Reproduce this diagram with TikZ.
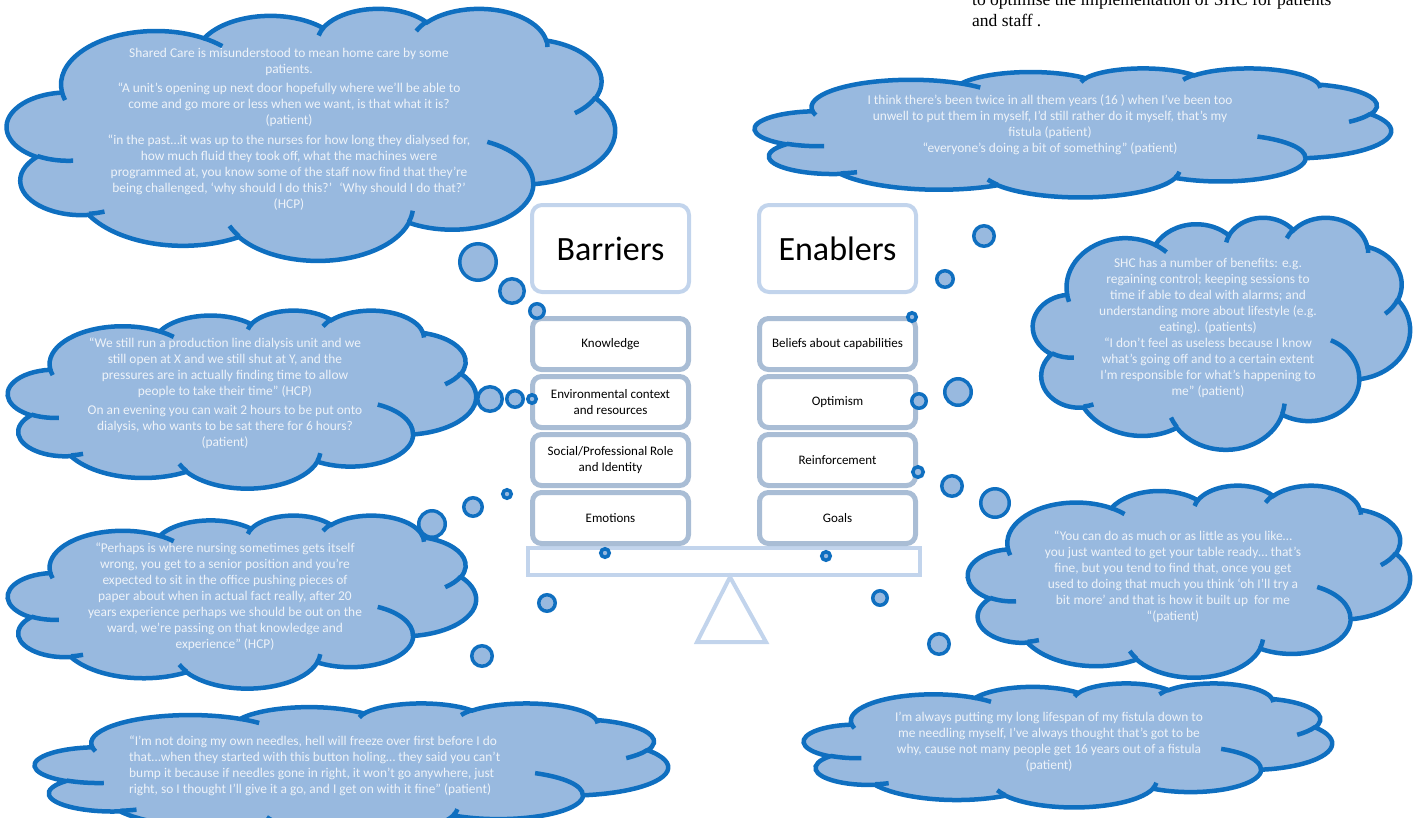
\documentclass[tikz,border=0pt]{standalone}
\usepackage{fontspec}
\setmainfont{Carlito}
\newfontfamily\notefont{Liberation Serif}
\usepackage{tikz}
\usetikzlibrary{positioning}
\definecolor{cloudfill}{HTML}{98B9DF}
\definecolor{cloudrim}{HTML}{0F6FC0}
\definecolor{quotefg}{HTML}{EEF3F9}
\definecolor{headrim}{HTML}{C2D4EC}
\definecolor{boxrim}{HTML}{A9BDD5}

% one puff of the cloud: radii #1,#2, start #3 and sweep #4 as seen on the page
\newcommand{\puff}[4]{%
  \pgfmathsetmacro\puffA{atan2(#1*sin(#3),#2*cos(#3))}%
  \pgfmathsetmacro\puffB{atan2(#1*sin(#3+#4),#2*cos(#3+#4))}%
  \pgfmathsetmacro\puffB{\puffB+360*(\puffB<\puffA)}%
  \pgfpatharcaxes{\puffA}{\puffB}{\pgfpointxy{#1}{0}}{\pgfpointxy{0}{#2}}}
% outline of the cloud in a 432 x 432 box
\newcommand{\cloudshape}{%
  \puff{67.53}{91.90}{-190.487}{123.781}\puff{53.33}{72.67}{-144.102}{89.945}%
  \puff{43.65}{59.45}{-145.808}{99.723}\puff{48.57}{65.95}{-130.986}{117.242}%
  \puff{53.33}{72.73}{-78.709}{109.027}\puff{67.75}{92.20}{-46.267}{130.269}%
  \puff{57.85}{78.67}{0.625}{114.033}\puff{67.52}{92.15}{22.452}{115.173}%
  \puff{77.20}{105.43}{66.243}{75.711}\puff{43.60}{59.18}{-274.942}{146.736}%
  \puff{43.45}{59.45}{-246.829}{152.519}\pgfpathclose}
% the short inner strokes between the puffs
\newcommand{\cloudcreases}{%
  \pgfpathmoveto{\pgfpointxy{46.93}{261.77}}\puff{43.45}{59.45}{86.742}{26.430}%
  \pgfpathmoveto{\pgfpointxy{69.28}{348.99}}\puff{43.60}{59.18}{73.610}{11.447}%
  \pgfpathmoveto{\pgfpointxy{164.78}{390.90}}\puff{67.52}{92.15}{137.624}{14.081}%
  \pgfpathmoveto{\pgfpointxy{288.27}{347.51}}\puff{67.52}{92.15}{6.453}{15.998}%
  \pgfpathmoveto{\pgfpointxy{341.29}{229.54}}\puff{57.85}{78.67}{-70.292}{70.917}%
  \pgfpathmoveto{\pgfpointxy{417.98}{153.54}}\puff{53.33}{72.73}{30.318}{27.752}%
  \pgfpathmoveto{\pgfpointxy{383.24}{54.26}}\puff{48.57}{65.95}{-13.744}{14.859}%
  \pgfpathmoveto{\pgfpointxy{290.78}{39.52}}\puff{48.57}{65.95}{-149.181}{18.195}%
  \pgfpathmoveto{\pgfpointxy{221.41}{47.20}}\puff{43.65}{59.45}{-163.494}{17.686}%
  \pgfpathmoveto{\pgfpointxy{140.00}{51.92}}\puff{67.53}{91.90}{-66.707}{12.319}%
  \pgfpathmoveto{\pgfpointxy{41.27}{157.89}}\puff{67.53}{91.90}{157.654}{11.858}}
% \drawcloud{left}{top}{width}{height}
\newcommand{\drawcloud}[4]{%
  \pgfmathsetmacro\cloudw{#3/432}\pgfmathsetmacro\cloudh{#4/432}%
  \begin{scope}[shift={(#1,#2)},x=\cloudw pt,y=-\cloudh pt]
    \path[cloudbody] (39,143.7) \pgfextra{\cloudshape};
    \path[cloudcrease] \pgfextra{\cloudcreases};
  \end{scope}}

\begin{document}
\begin{tikzpicture}[x=1pt,y=-1pt,
  cloudbody/.style={fill=cloudfill,draw=cloudrim,line width=4.5pt},
  cloudcrease/.style={draw=cloudrim,line width=4.5pt},
  bubble/.style={fill=cloudfill,draw=cloudrim,line width=3.5pt},
  quote/.style={text=quotefg,align=center,inner sep=0pt,font=\fontsize{13.4}{16}\selectfont},
  headbox/.style={draw=headrim,line width=4pt,rounded corners=10pt,fill=white,outer sep=0pt,
    minimum width=157pt,minimum height=87pt,font=\fontsize{34}{40}\selectfont},
  factor/.style={draw=boxrim,line width=5pt,rounded corners=9pt,fill=white,outer sep=0pt,
    align=center,minimum width=156pt,minimum height=51pt,font=\fontsize{13}{16}\selectfont},
  beam/.style={draw=headrim,line width=4pt,fill=white,minimum width=392pt,minimum height=27pt},
  pivot/.style={draw=headrim,line width=4pt},
  node distance=7pt]
  \useasboundingbox (0,0) rectangle (1416,817);
  \clip (0,0) rectangle (1416,817);

  % clouds
  \drawcloud{7}{8}{608}{252}
  \drawcloud{755}{68}{636}{129}
  \drawcloud{8}{310}{468}{178}
  \drawcloud{8}{515}{468}{173}
  \drawcloud{1033}{217}{377}{232}
  \drawcloud{968}{485}{442}{192}
  \drawcloud{804}{683}{528}{124}
  \drawcloud{35}{703}{633}{132}

  % balance
  \node[beam] (plank) at (724,561.5) {};
  \draw[pivot] (730,577) -- (697,642) -- (766,642) -- cycle;
  \node[headbox] (barr) at (610.5,248.5) {Barriers};
  \node[headbox,right=70pt of barr] (enab) {Enablers};
  \node[factor,below=26.5pt of barr] (know) {Knowledge};
  \node[factor,below=of know] (env) {Environmental context\\and resources};
  \node[factor,below=of env] (social) {Social/Professional Role\\and Identity};
  \node[factor,below=of social] (emot) {Emotions};
  \node[factor,below=26.5pt of enab] (belief) {Beliefs about capabilities};
  \node[factor,below=of belief] (optim) {Optimism};
  \node[factor,below=of optim] (reinf) {Reinforcement};
  \node[factor,below=of reinf] (goals) {Goals};

  % thought bubbles
  \foreach \cx/\cy/\r in {478/262/20,512/291/14,537/311/9,490/399/14,515/399/10,532/399/6,
      432/524/15,473/507/11,507/494/6,605/553/6,547/603/10,482/656/12,
      912/317/6,945/279/10,984/236/12,919/401/9,958/392/15,
      918/472/7,952/486/12,995/503/16,826/556/6,880/598/9,939/644/12}
    \draw[bubble] (\cx,\cy) circle[radius=\r pt-1.75pt];

  % quotes
  \node[quote] (qshared) at (289,129) {Shared Care is misunderstood to mean home care by some\\
    patients.\\[3pt]
    “A unit’s opening up next door hopefully where we’ll be able to\\
    come and go more or less when we want, is that what it is?\\
    (patient)\\[4pt]
    “in the past…it was up to the nurses for how long they dialysed for,\\
    how much fluid they took off, what the machines were\\
    programmed at, you know some of the staff now find that they’re\\
    being challenged, ‘why should I do this?’ \ ‘Why should I do that?’\\
    (HCP)};
  \node[quote] (qfistula) at (1050,124.5) {I think there’s been twice in all them years (16 ) when I’ve been too\\
    unwell to put them in myself, I’d still rather do it myself, that’s my\\
    fistula (patient)\\
    “everyone’s doing a bit of something” (patient)};
  \node[quote] (qline) at (225,393) {“We still run a production line dialysis unit and we\\
    still open at X and we still shut at Y, and the\\
    pressures are in actually finding time to allow\\
    people to take their time” (HCP)\\[3pt]
    On an evening you can wait 2 hours to be put onto\\
    dialysis, who wants to be sat there for 6 hours?\\
    (patient)};
  \node[quote] (qnursing) at (225,596.5) {“Perhaps is where nursing sometimes gets itself\\
    wrong, you get to a senior position and you’re\\
    expected to sit in the office pushing pieces of\\
    paper about when in actual fact really, after 20\\
    years experience perhaps we should be out on the\\
    ward, we’re passing on that knowledge and\\
    experience” (HCP)};
  \node[quote] (qbenefit) at (1208,327.5) {SHC has a number of benefits: e.g.\\
    regaining control; keeping sessions to\\
    time if able to deal with alarms; and\\
    understanding more about lifestyle (e.g.\\
    eating). (patients)\\
    “I don’t feel as useless because I know\\
    what’s going off and to a certain extent\\
    I’m responsible for what’s happening to\\
    me” (patient)};
  \node[quote] (qtable) at (1173,577) {“You can do as much or as little as you like…\\
    you just wanted to get your table ready… that’s\\
    fine, but you tend to find that, once you get\\
    used to doing that much you think ‘oh I’ll try a\\
    bit more’ and that is how it built up \ for me\\
    “(patient)};
  \node[quote] (qlifespan) at (1049,742) {I’m always putting my long lifespan of my fistula down to\\
    me needling myself, I’ve always thought that’s got to be\\
    why, cause not many people get 16 years out of a fistula\\
    (patient)};
  \node[quote,align=left,anchor=west] (qneedles) at (129,766) {“I’m not doing my own needles, hell will freeze over first before I do\\
    that…when they started with this button holing… they said you can’t\\
    bump it because if needles gone in right, it won’t go anywhere, just\\
    right, so I thought I’ll give it a go, and I get on with it fine” (patient)};

  % running text above
  \node[anchor=base west,inner sep=0pt,font=\notefont\fontsize{17.5}{20}\selectfont] (note1) at (972,5.5)
    {to optimise the implementation of SHC for patients};
  \node[anchor=base west,inner sep=0pt,font=\notefont\fontsize{17.5}{20}\selectfont] (note2) at (972,26)
    {and staff .};
\end{tikzpicture}
\end{document}
